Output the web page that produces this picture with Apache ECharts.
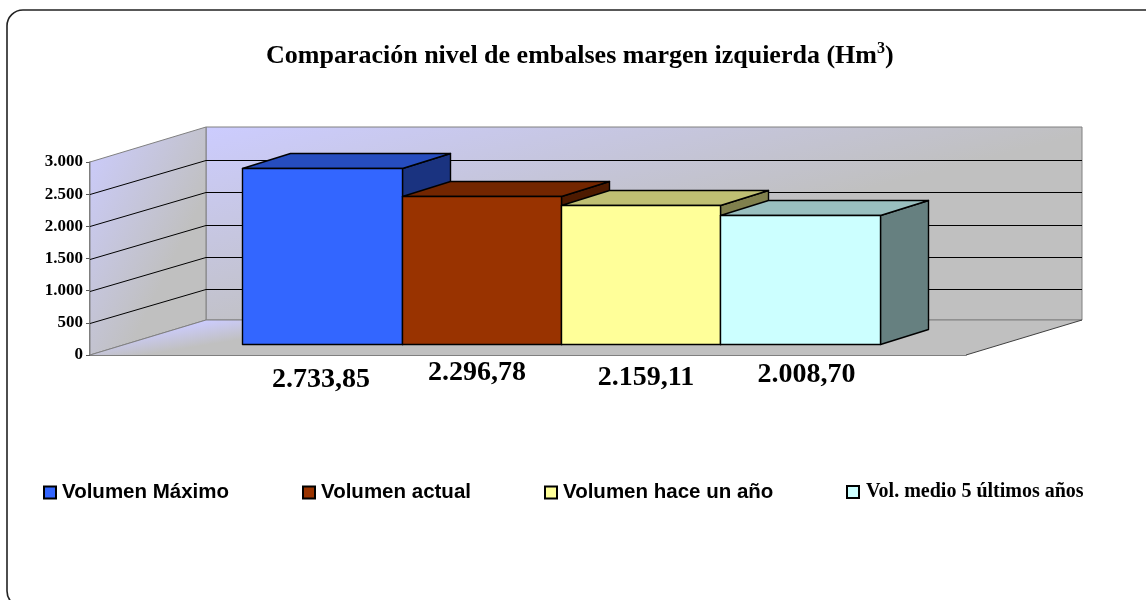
<!DOCTYPE html>
<html>
<head>
<meta charset="utf-8">
<style>html,body{margin:0;padding:0;background:#fff}#c{width:1146px;height:600px}</style>
<script src="https://cdn.jsdelivr.net/npm/echarts@6/dist/echarts.min.js"></script>
</head>
<body>
<div id="c"></div>
<script>
const seriesNames = ['Volumen Máximo', 'Volumen actual', 'Volumen hace un año', 'Vol. medio 5 últimos años'];
const seriesValues = [2733.85, 2296.78, 2159.11, 2008.70];
const seriesColors = ['#3366FF', '#993300', '#FFFF99', '#CCFFFF'];
const tickValues = [0, 500, 1000, 1500, 2000, 2500, 3000];
const tickLabels = ['0', '500', '1.000', '1.500', '2.000', '2.500', '3.000'];
const titleText = 'Comparación nivel de embalses margen izquierda (Hm';

const SERIF = '"Liberation Serif","Times New Roman",serif';
const SANS = '"Liberation Sans",Arial,sans-serif';
const WALL = [116, -35];      // depth of the floor / left wall
const BAR_START = [33, -11];  // bars' front plane relative to the front of the floor
const BAR_DEPTH = [48, -15];
const BAR_FRAC = 0.182;
const LABEL_SHIFT = [[-1.5, 35], [-5, 28], [5, 33.5], [6, 30]];
const GREY = '#808080';

function shade(hex, k) {
  const n = parseInt(hex.slice(1), 16);
  const c = [n >> 16, (n >> 8) & 255, n & 255].map(v => Math.round(v * k));
  return 'rgb(' + c.join(',') + ')';
}
function grad(x, y, x2, y2) {
  return { type: 'linear', x: x, y: y, x2: x2, y2: y2, global: false,
    colorStops: [{ offset: 0, color: '#CCCCFF' }, { offset: 1, color: '#C0C0C0' }] };
}
function poly(points, fill, stroke, lw) {
  return { type: 'polygon', shape: { points: points },
    style: { fill: fill, stroke: stroke || null, lineWidth: lw === undefined ? 1 : lw, lineJoin: 'round' } };
}

function renderWalls(params, api) {
  const cs = params.coordSys;
  const xl = cs.x, xr = cs.x + cs.width;
  const yb = api.coord([0, 0])[1], yt = api.coord([0, 3000])[1];
  const dx = WALL[0], dy = WALL[1];
  return { type: 'group', silent: true, children: [
    poly([[xl + dx, yt + dy], [xr + dx, yt + dy], [xr + dx, yb + dy], [xl + dx, yb + dy]], grad(0, 0, 0.063, 1.12), GREY),
    poly([[xl, yt], [xl + dx, yt + dy], [xl + dx, yb + dy], [xl, yb]], grad(0, 0, 1.03, 0.26), GREY),
    poly([[xl, yb], [xl + dx, yb + dy], [xr + dx, yb + dy], [xr, yb]], grad(0.117, 0, 0.121, 0.695), null, 0),
    { type: 'line', shape: { x1: xl + dx, y1: yb + dy, x2: xr + dx, y2: yb + dy }, style: { stroke: GREY, lineWidth: 1 } },
    { type: 'line', shape: { x1: xl, y1: yb, x2: xl + dx, y2: yb + dy }, style: { stroke: GREY, lineWidth: 1 } },
    { type: 'line', shape: { x1: xr, y1: yb, x2: xr + dx, y2: yb + dy }, style: { stroke: '#404040', lineWidth: 1 } }
  ] };
}

function renderGrid(params, api) {
  const cs = params.coordSys;
  const y = Math.round(api.coord([0, api.value(0)])[1]) + 0.5;
  const xl = cs.x, xr = cs.x + cs.width;
  const by = Math.round(y + WALL[1]) + 0.5;
  return { type: 'polyline', silent: true,
    shape: { points: [[xl, y], [xl + WALL[0], by], [xr + WALL[0], by]] },
    style: { fill: null, stroke: '#000', lineWidth: 1 } };
}

function makeBar(i) {
  return function (params, api) {
    const v = api.value(0);
    const band = api.size([1, 0])[0];
    const cx = api.coord([0, 0])[0];
    const w = band * BAR_FRAC;
    const x0 = Math.round(cx + BAR_START[0] + (i - 2) * w) + 0.5;
    const x1 = Math.round(cx + BAR_START[0] + (i - 1) * w) + 0.5;
    const y0 = Math.round(api.coord([0, 0])[1] + BAR_START[1]) + 0.5;
    const y1 = Math.round(api.coord([0, v])[1] + BAR_START[1]) + 0.5;
    const dx = BAR_DEPTH[0], dy = BAR_DEPTH[1];
    const col = seriesColors[i];
    const stroke = '#000';
    return { type: 'group', silent: true, children: [
      poly([[x1, y0], [x1 + dx, y0 + dy], [x1 + dx, y1 + dy], [x1, y1]], shade(col, 0.5), stroke, 1.4),
      poly([[x0, y1], [x0 + dx, y1 + dy], [x1 + dx, y1 + dy], [x1, y1]], shade(col, 0.75), stroke, 1.4),
      poly([[x0, y0], [x1, y0], [x1, y1], [x0, y1]], col, stroke, 1.4),
      { type: 'text', z2: 5, style: {
        x: (x0 + x1) / 2 + LABEL_SHIFT[i][0], y: y0 + LABEL_SHIFT[i][1],
        text: v.toFixed(2).replace('.', ',').replace(/^(\d)(\d{3})/, '$1.$2'),
        align: 'center', verticalAlign: 'middle',
        font: 'bold 28px ' + SERIF, fill: '#000' } }
    ] };
  };
}

const series = [
  { type: 'custom', name: 'muros', coordinateSystem: 'cartesian2d', z: 1, silent: true,
    encode: { y: 0 }, data: [[0]], renderItem: renderWalls },
  { type: 'custom', name: 'rejilla', coordinateSystem: 'cartesian2d', z: 2, silent: true,
    encode: { y: 0 }, data: tickValues.slice(1, -1).map(v => [v]), renderItem: renderGrid }
].concat(seriesNames.map((name, i) => ({
  type: 'custom', name: name, coordinateSystem: 'cartesian2d', z: 3 + i, silent: true,
  itemStyle: { color: seriesColors[i], borderColor: '#000', borderWidth: 1.5 },
  encode: { y: 0 }, data: [[seriesValues[i]]], renderItem: makeBar(i)
})));

const legendPos = [43, 302, 544, 846];
const legends = seriesNames.map((name, i) => ({
  data: [name], left: legendPos[i], top: 482, padding: 0, icon: 'rect', itemWidth: 12, itemHeight: 12, selectedMode: false,
  textStyle: i < 3
    ? { fontFamily: SANS, fontWeight: 'bold', fontSize: 20.5, color: '#000', padding: [0, 0, 0, 1] }
    : { fontFamily: SERIF, fontWeight: 'bold', fontSize: 20, color: '#000', padding: [0, 0, 0, 2] }
}));

const chart = echarts.init(document.getElementById('c'), null, { renderer: 'canvas' });
chart.setOption({
  animation: false,
  backgroundColor: '#fff',
  title: {
    left: 261, top: 36,
    text: '{b|' + titleText + '}{s|3}{b|)}',
    textStyle: { rich: {
      b: { fontFamily: SERIF, fontWeight: 'bold', fontSize: 26, color: '#000' },
      s: { fontFamily: SERIF, fontWeight: 'bold', fontSize: 16, color: '#000', padding: [0, 0, 14, 0] }
    } }
  },
  legend: legends,
  grid: { left: 90, width: 876, top: 162, height: 193, containLabel: false },
  xAxis: { type: 'category', data: [''], axisTick: { show: false }, axisLabel: { show: false },
    axisLine: { lineStyle: { color: '#555', width: 1.5 } }, splitLine: { show: false } },
  yAxis: { type: 'value', min: 0, max: 3000, interval: 500,
    axisLine: { show: true, lineStyle: { color: '#555', width: 1.5 } },
    axisTick: { show: true, length: 4, lineStyle: { color: '#555' } },
    splitLine: { show: false },
    axisLabel: { margin: 7, fontFamily: SERIF, fontWeight: 'bold', fontSize: 17, color: '#000',
      formatter: v => tickLabels[tickValues.indexOf(v)] } },
  graphic: [{ type: 'rect', silent: true, z: -1,
    shape: { x: 7, y: 10, width: 1200, height: 597, r: 16 },
    style: { fill: 'none', stroke: '#222', lineWidth: 1.6 } }],
  series: series
});
</script>
</body>
</html>
